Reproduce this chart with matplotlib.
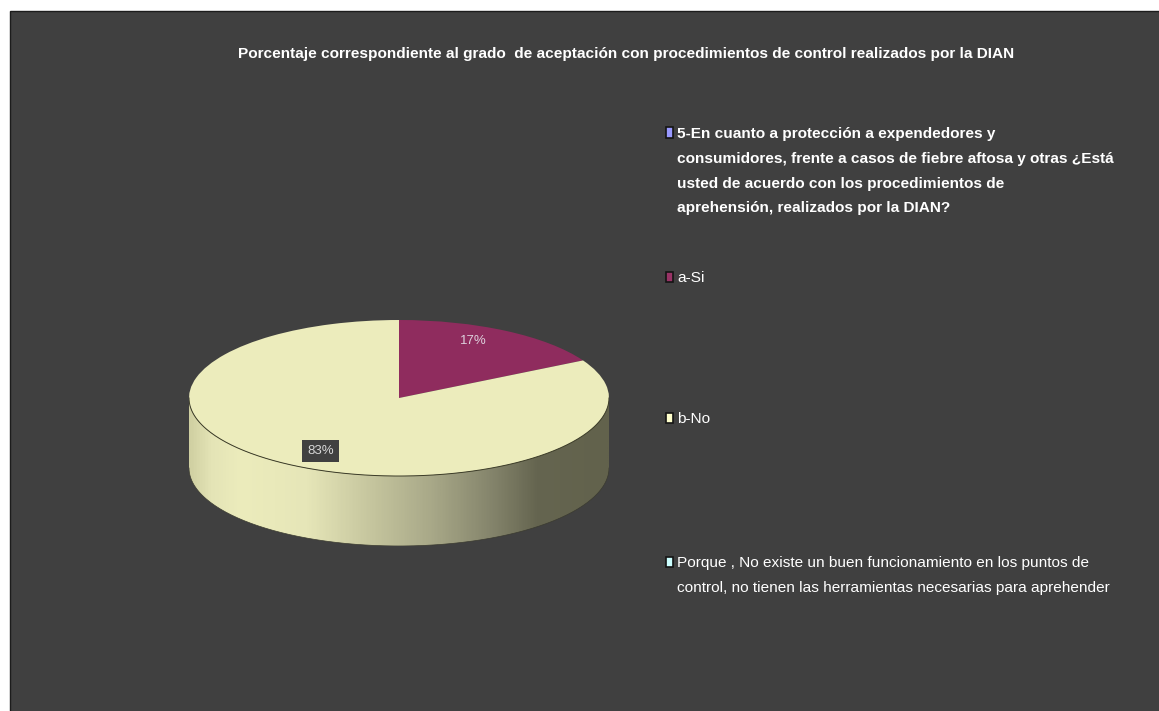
import numpy as np
import matplotlib
matplotlib.use("Agg")
import matplotlib.pyplot as plt
from matplotlib.colors import LinearSegmentedColormap
from matplotlib.patches import Polygon, Rectangle

W, H = 1159, 711
plt.rcParams['font.family'] = ['Liberation Sans', 'DejaVu Sans']

title = 'Porcentaje correspondiente al grado  de aceptación con procedimientos de control realizados por la DIAN'
categories = [
    '5-En cuanto a protección a expendedores y\nconsumidores, frente a casos de fiebre aftosa y otras ¿Está\nusted de acuerdo con los procedimientos de\naprehensión, realizados por la DIAN?',
    'a-Si',
    'b-No',
    'Porque , No existe un buen funcionamiento en los puntos de\ncontrol, no tienen las herramientas necesarias para aprehender',
]
values = [0, 17, 83, 0]
colors = ['#9999FF', '#8F2C5E', '#ECECBC', '#CCFFFF']
swatch_colors = ['#9999FF', '#993366', '#FFFFCC', '#CCFFFF']
legend_y = [133, 277, 418, 562]
legend_weight = ['bold', 'normal', 'normal', 'normal']

def fx(x):
    return x / W

def fy(y):
    return 1 - y / H

fig = plt.figure(figsize=(W / 100, H / 100), dpi=100, facecolor='white')

# dark panel, white margin only at top and left
fig.add_artist(Rectangle((fx(10), fy(712)), 1.0, fy(11) - fy(712), transform=fig.transFigure,
                         facecolor='#404040', edgecolor='#1c1c1c', linewidth=1, zorder=-5))

# pie: top face is a circle squashed by the axes limits
depth = 0.897
ax = fig.add_axes([fx(189), fy(546), fx(609) - fx(189), fy(320) - fy(546)])
ax.pie(values, colors=colors, startangle=90, counterclock=False, radius=1,
       wedgeprops={'linewidth': 0})
ax.set_aspect('auto')
ax.axis('off')

# side of the cylinder
t = np.linspace(np.pi, 2 * np.pi, 200)
rim_x, rim_y = np.cos(t), np.sin(t)
side = Polygon(np.vstack([np.column_stack([rim_x, rim_y]),
                          np.column_stack([rim_x[::-1], rim_y[::-1] - depth])]),
               closed=True, transform=ax.transData, facecolor='none', edgecolor='none')
ax.add_patch(side)
cmap = LinearSegmentedColormap.from_list('side', [
    (0.0, '#D0D0A2'), (0.05, '#E4E4B6'), (0.12, '#ECECBC'), (0.28, '#E6E6B8'), (0.42, '#C8C8A0'),
    (0.58, '#A8A888'), (0.72, '#85856C'), (0.83, '#656550'), (1.0, '#62624C')])
img = ax.imshow(np.linspace(0, 1, 400).reshape(1, -1), cmap=cmap, aspect='auto',
                extent=(-1, 1, -1 - depth, 1), zorder=0.5)
img.set_clip_path(side)
ax.set_xlim(-1, 1)
ax.set_ylim(-1 - depth, 1)
ax.plot(rim_x, rim_y, color='#3c3c28', linewidth=0.7, zorder=3)
ax.plot(rim_x, rim_y - depth, color='#3a3a30', linewidth=0.5, zorder=3)

# percentage labels
fig.text(fx(473), fy(341), f'{values[1]}%', color='#DDD0DC', fontsize=9.5, ha='center', va='center')
fig.text(fx(320.5), fy(451), f'{values[2]}%', color='#D8D8D8', fontsize=9.5, ha='center', va='center',
         bbox={'facecolor': '#404040', 'edgecolor': 'none', 'pad': 3.5})

fig.text(fx(626.5), fy(54), title, color='white', fontsize=11.1, fontweight='bold', ha='center', va='center')

# legend
for label, col, y, weight in zip(categories, swatch_colors, legend_y, legend_weight):
    fig.add_artist(Rectangle((fx(666), fy(y + 4.5)), 7 / W, 10 / H, transform=fig.transFigure,
                             facecolor=col, edgecolor='#141414', linewidth=1.2))
    fig.text(fx(677), fy(y - 6), label, color='white', fontsize=11.1, fontweight=weight,
             ha='left', va='top', linespacing=1.98)

fig.savefig('out.png', dpi=100, facecolor='white')
